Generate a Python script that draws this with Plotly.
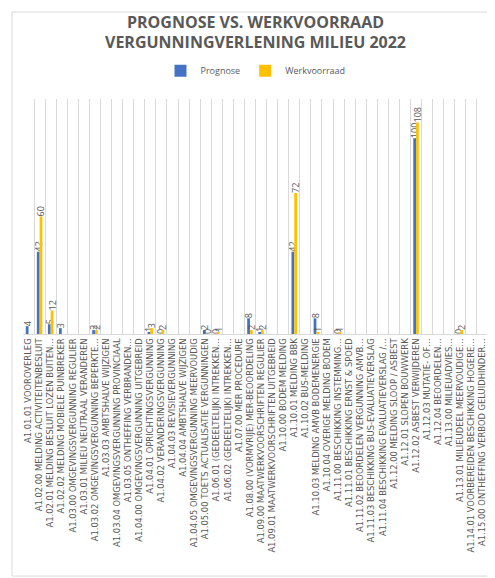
import plotly.graph_objects as go

COLORS = {
    "prognose": "#4472C4",
    "werkvoorraad": "#FFC000",
    "text": "#595959",
    "grid": "#D9D9D9",
}

categories = [
    "A1.01.01 VOOROVERLEG",
    "A1.02.00 MELDING ACTIVITEITENBESLUIT",
    "A1.02.01 MELDING BESLUIT LOZEN BUITEN…",
    "A1.02.02 MELDING MOBIELE PUINBREKER",
    "A1.03.00 OMGEVINGSVERGUNNING REGULIER",
    "A1.03.01 MILIEU NEUTRAAL VERANDEREN",
    "A1.03.02 OMGEVINGSVERGUNNING BEPERKTE…",
    "A1.03.03 AMBTSHALVE WIJZIGEN",
    "A1.03.04 OMGEVINGSVERGUNNING PROVINCIAAL",
    "A1.03.05 ONTHEFFING VERBRANDEN…",
    "A1.04.00 OMGEVINGSVERGUNNING UITGEBREID",
    "A1.04.01 OPRICHTINGSVERGUNNING",
    "A1.04.02 VERANDERINGSVERGUNNING",
    "A1.04.03 REVISIEVERGUNNING",
    "A1.04.04 AMBTSHALVE WIJZIGEN",
    "A1.04.05 OMGEVINGSVERGUNNING MEERVOUDIG",
    "A1.05.00 TOETS ACTUALISATIE VERGUNNINGEN",
    "A1.06.01 (GEDEELTELIJK) INTREKKEN…",
    "A1.06.02 (GEDEELTELIJK) INTREKKEN…",
    "A1.07.00 MER PROCEDURE",
    "A1.08.00 (VORMVRIJE) MER-BEOORDELING",
    "A1.09.00 MAATWERKVOORSCHRIFTEN REGULIER",
    "A1.09.01 MAATWERKVOORSCHRIFTEN UITGEBREID",
    "A1.10.00 BODEM MELDING",
    "A1.10.01 MELDING BBK",
    "A1.10.02 BUS-MELDING",
    "A1.10.03 MELDING AMVB BODEMENERGIE",
    "A1.10.04 OVERIGE MELDING BODEM",
    "A1.11.00 BESCHIKKING INSTEMMING…",
    "A1.11.01 BESCHIKKING ERNST & SPOED",
    "A1.11.02 BEOORDELEN VERGUNNING AMVB…",
    "A1.11.03 BESCHIKKING BUS-EVALUATIEVERSLAG",
    "A1.11.04 BESCHIKKING EVALUATIEVERSLAG /…",
    "A1.12.00 MELDING SLOOP / ASBEST",
    "A1.12.01 SLOPEN BOUWWERK",
    "A1.12.02 ASBEST VERWIJDEREN",
    "A1.12.03 MUTATIE- OF…",
    "A1.12.04 BEOORDELEN…",
    "A1.13.00 MILIEUADVIES…",
    "A1.13.01 MILIEUDEEL MEERVOUDIGE…",
    "A1.14.01 VOORBEREIDEN BESCHIKKING HOGERE…",
    "A1.15.00 ONTHEFFING VERBOD GELUIDHINDER…",
]

# None = empty cell (no bar, no label)
prognose = [
    4, 42, 5, 3, None, None, 2, None, None, None,
    None, 1, 0, None, None, None, 2, 0, None, None,
    8, 1, None, None, 42, None, 8, None, 0, None,
    None, None, None, None, None, 100, None, None, None, 0,
    None, None,
]
werkvoorraad = [
    None, 60, 12, None, None, None, 2, None, None, None,
    None, 3, 2, None, None, None, 0, 1, None, None,
    2, 2, None, None, 72, None, 1, None, 1, None,
    None, None, None, None, None, 108, None, None, None, 2,
    None, None,
]


def _labels(vals):
    return ["" if v is None else str(v) for v in vals]


fig = go.Figure()
for name, vals, color in [
    ("Prognose", prognose, COLORS["prognose"]),
    ("Werkvoorraad", werkvoorraad, COLORS["werkvoorraad"]),
]:
    fig.add_trace(go.Bar(
        x=categories, y=vals, name=name,
        marker=dict(color=color, line=dict(width=0)),
        text=_labels(vals), textposition="outside", textangle=-90,
        textfont=dict(size=9, color=COLORS["text"]),
        constraintext="none", cliponaxis=False,
        hoverinfo="skip",
    ))

fig.update_layout(
    width=495, height=578,
    title=dict(
        text="PROGNOSE VS. WERKVOORRAAD<br>VERGUNNINGVERLENING MILIEU 2022",
        x=0.5, xanchor="center", y=0.966, yanchor="top",
        font=dict(size=16, color=COLORS["text"], family="Open Sans", weight="bold"),
    ),
    font=dict(family="Open Sans", color=COLORS["text"]),
    paper_bgcolor="white", plot_bgcolor="white",
    margin=dict(l=15, r=15, t=91, b=252),
    barmode="group", bargap=0.5, bargroupgap=0,
    showlegend=True,
    legend=dict(orientation="h", x=0.5, xanchor="center", y=1.12, yanchor="middle",
                font=dict(size=9, color=COLORS["text"]), itemwidth=30,
                traceorder="normal"),
    xaxis=dict(
        type="category", tickson="boundaries", showgrid=True, gridcolor=COLORS["grid"],
        gridwidth=1, showline=True, linecolor=COLORS["grid"], ticks="",
        tickangle=-90, tickfont=dict(size=8.4, color=COLORS["text"], family="DejaVu Sans"),
        fixedrange=True,
    ),
    yaxis=dict(range=[0, 120], visible=False, showgrid=False, fixedrange=True),
    shapes=[dict(
        type="rect", xref="paper", yref="paper",
        x0=-0.0237, x1=1.028, y0=-1.03, y1=1.37,
        line=dict(color=COLORS["grid"], width=1), fillcolor="rgba(0,0,0,0)", layer="below",
    )],
)

fig.write_html("out.html")
